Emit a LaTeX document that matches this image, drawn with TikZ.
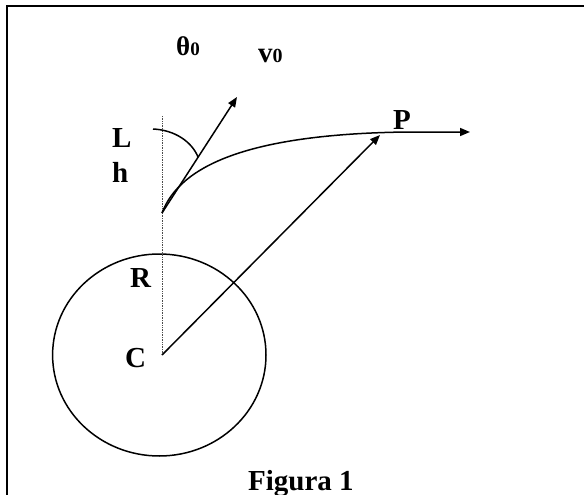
\documentclass[tikz,border=0pt]{standalone}
\usepackage{fontspec}
\setmainfont{Liberation Serif}
\usetikzlibrary{arrows.meta}
\tikzset{
  lbl/.style={
    inner sep=0pt,
    anchor=base west,
    font=\bfseries\fontsize{29}{34}\selectfont
  },
  arrow/.style={-{Triangle[length=10pt,width=8pt]}, line width=1.5pt},
  curve/.style={line width=1.5pt}
}

\begin{document}
\begin{tikzpicture}[x=1pt, y=-1pt]
  \useasboundingbox (0,0) rectangle (584,495);
  \clip (0,0) rectangle (584,495);
  \draw[line width=2pt] (6.5,495) -- (6.5,6.5) -- (584,6.5);

  \coordinate (C) at (162,355);
  \coordinate (launch) at (162,213);
  \coordinate (vtip) at (237,97);
  \coordinate (Ptip) at (380,135);
  \coordinate (Pjoin) at (407,132);
  \coordinate (ftip) at (470,132);
  \coordinate (axtop) at (162,116);
  \coordinate (arcA) at (153,129);
  \coordinate (arcB) at (198,157);

  \draw[curve] (159.3,355) ellipse [x radius=106.7, y radius=101];
  \draw[densely dotted, line width=0.7pt, black!70] (axtop) -- (C);

  \node[lbl] (theta) at (176,56) {{\fontsize{27}{30}\selectfont θ}{\fontsize{19}{22}\selectfont 0}};
  \node[lbl] (v0) at (258,63) {v{\fontsize{20}{22}\selectfont 0}};
  \node[lbl] (L) at (112,147) {L};
  \node[lbl] (h) at (112,182) {h};
  \node[lbl] (R) at (130,287) {R};
  \node[lbl] (Clbl) at (125,367) {C};
  \node[lbl] (P) at (393,129) {P};
  \node[lbl] (fig) at (248,490) {Figura 1};

  \draw[arrow] (launch) -- (vtip);
  \draw[curve] (arcA) .. controls (175,130) and (192,142) .. (arcB);
  \draw[arrow] (launch) .. controls (180,165) and (250,134) .. (Pjoin) -- (ftip);
  \draw[arrow] (C) -- (Ptip);
\end{tikzpicture}
\end{document}
